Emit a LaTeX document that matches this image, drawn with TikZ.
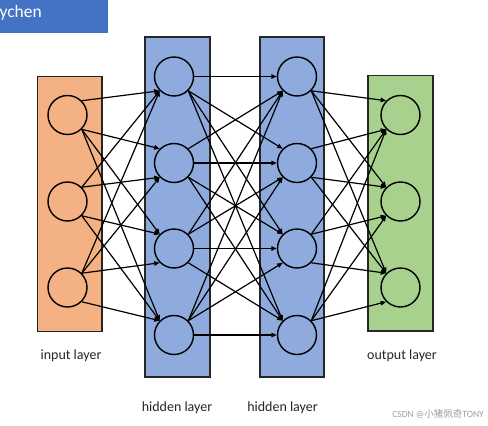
\documentclass[tikz,border=0pt]{standalone}
\usepackage{fontspec}
\setmainfont{Carlito}
\newfontfamily\cjk{Noto Sans CJK SC}
\usetikzlibrary{arrows.meta}
\definecolor{inorange}{HTML}{F4B183}
\definecolor{hidblue}{HTML}{8FAADC}
\definecolor{outgreen}{HTML}{A9D18E}
\definecolor{banblue}{HTML}{4472C4}
\definecolor{boxline}{HTML}{262626}
\newcommand\linkpair[4]{%
  \pgfmathsetmacro\dyy{#4-#2}%
  \ifdim\dyy pt>1pt \def\sa{south east}\def\ta{north west}\else
  \ifdim\dyy pt<-1pt \def\sa{north east}\def\ta{south west}\else
  \def\sa{east}\def\ta{west}\fi\fi
  \draw[conn] (#1.\sa) -- (#3.\ta);}
\begin{document}
\begin{tikzpicture}[x=1pt,y=-1pt,
  layerbox/.style={draw=boxline, line width=1.6pt, rectangle, inner sep=0pt},
  neuron/.style={circle, draw=black, line width=1.4pt, minimum size=39pt, inner sep=0pt},
  conn/.style={-{Triangle[length=5.5pt,width=4.5pt]}, line width=1.2pt, black},
  lbl/.style={font=\fontsize{14}{16}\selectfont, text=black!85}]
\useasboundingbox (0,0) rectangle (488,426);
% banner
\node[rectangle, fill=banblue, minimum width=108pt, minimum height=33pt, inner sep=0pt, anchor=north west] (banner) at (0,0) {};
\node[anchor=base east, text=white, font=\fontsize{17.5}{20}\selectfont, inner sep=0pt] (bantext) at (42,17.3) {ychen};
% layer boxes
\node[layerbox, fill=inorange, minimum width=64.5pt, minimum height=255pt] (inbox) at (69.75,204) {};
\node[layerbox, fill=hidblue, minimum width=65pt, minimum height=340pt] (h1box) at (177.5,207) {};
\node[layerbox, fill=hidblue, minimum width=64pt, minimum height=340pt] (h2box) at (292,207) {};
\node[layerbox, fill=outgreen, minimum width=65pt, minimum height=255.5pt] (outbox) at (400.5,203.25) {};
% neurons
\foreach \k/\y in {1/115,2/201.5,3/287.5}{
  \node[neuron] (i\k) at (67.5,\y) {};
  \node[neuron] (o\k) at (400.5,\y) {};
}
\foreach \k/\y in {1/76.5,2/163,3/248.5,4/335}{
  \node[neuron] (a\k) at (174,\y) {};
  \node[neuron] (b\k) at (297,\y) {};
}
% connections
\foreach \i/\yi in {1/115,2/201.5,3/287.5}{
  \foreach \j/\yj in {1/76.5,2/163,3/248.5,4/335}{
    \linkpair{i\i}{\yi}{a\j}{\yj}
  }
}
\foreach \i/\yi in {1/76.5,2/163,3/248.5,4/335}{
  \foreach \j/\yj in {1/76.5,2/163,3/248.5,4/335}{
    \linkpair{a\i}{\yi}{b\j}{\yj}
  }
}
\foreach \i/\yi in {1/76.5,2/163,3/248.5,4/335}{
  \foreach \j/\yj in {1/115,2/201.5,3/287.5}{
    \linkpair{b\i}{\yi}{o\j}{\yj}
  }
}
% labels
\node[lbl] (linput) at (71,355.5) {input layer};
\node[lbl] (lhid1) at (177,407.5) {hidden layer};
\node[lbl] (lhid2) at (282.5,407.5) {hidden layer};
\node[lbl] (loutput) at (402,355.5) {output layer};
\node[anchor=east, text=black!38, font=\fontsize{9.5}{11}\selectfont, inner sep=0pt] (wm) at (484,414) {CSDN @{\cjk 小猪佩奇}TONY};
\end{tikzpicture}
\end{document}
